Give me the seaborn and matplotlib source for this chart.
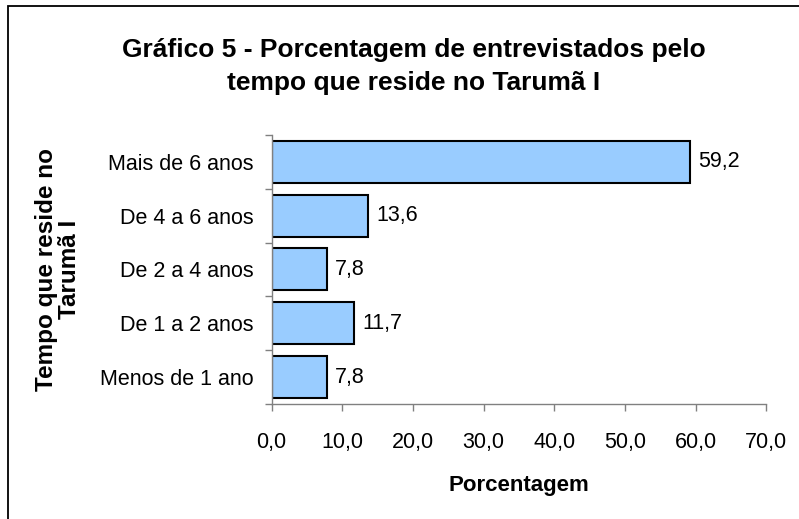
import matplotlib
matplotlib.use('Agg')
import matplotlib.pyplot as plt
import matplotlib.patches as mpatches
import seaborn as sns
import pandas as pd
import numpy as np

categorias = ['Mais de 6 anos', 'De 4 a 6 anos', 'De 2 a 4 anos', 'De 1 a 2 anos', 'Menos de 1 ano']
porcentagem = [59.2, 13.6, 7.8, 11.7, 7.8]
xticks = [0, 10, 20, 30, 40, 50, 60, 70]

sns.set_style('white')
plt.rcParams['font.family'] = ['Liberation Sans', 'DejaVu Sans']
plt.rcParams['text.color'] = 'black'
plt.rcParams['axes.labelcolor'] = 'black'
plt.rcParams['xtick.color'] = 'black'
plt.rcParams['ytick.color'] = 'black'

df = pd.DataFrame({'cat': categorias, 'pct': porcentagem})

fig = plt.figure(figsize=(7.99, 5.19), dpi=100)
ax = fig.add_axes([0.340, 0.2216, 0.619, 0.5184])

sns.barplot(data=df, y='cat', x='pct', orient='h', color='#99CCFF',
            edgecolor='black', linewidth=1.5, width=0.78, saturation=1, ax=ax)

ax.bar_label(ax.containers[0], labels=[f'{v:.1f}'.replace('.', ',') for v in porcentagem],
             padding=6, fontsize=15.5, color='black')

ax.set_xlim(0, 70)
ax.set_ylim(4.5, -0.5)
ax.set_xticks(xticks)
ax.set_xticklabels([f'{v:.1f}'.replace('.', ',') for v in xticks], fontsize=15.5)
ax.set_yticks(np.arange(-0.5, 5, 1), minor=True)
ax.tick_params(axis='y', which='major', left=True, length=0, pad=13, labelsize=15.5, labelcolor='black')
ax.tick_params(axis='y', which='minor', left=True, length=5, width=1, color='#808080', direction='out')
ax.tick_params(axis='x', which='major', bottom=True, length=5, width=1, color='#808080',
               direction='out', pad=15, labelcolor='black')

for s in ['top', 'right']:
    ax.spines[s].set_visible(False)
for s in ['left', 'bottom']:
    ax.spines[s].set_color('#808080')
    ax.spines[s].set_linewidth(1)

ax.set_xlabel('Porcentagem', fontsize=16, fontweight='bold', labelpad=16)
ax.set_ylabel('Tempo que reside no\nTarumã I', fontsize=17.5, fontweight='bold', labelpad=14,
              linespacing=0.95)

fig.text(0.518, 0.872, 'Gráfico 5 - Porcentagem de entrevistados pelo\ntempo que reside no Tarumã I',
         ha='center', va='center', fontsize=19, fontweight='bold', linespacing=1.5)

rect = mpatches.Rectangle((8 / 799, -0.1), 1.2, 1 - 6 / 519 + 0.1, transform=fig.transFigure,
                          fill=False, edgecolor='black', linewidth=1.3)
fig.patches.append(rect)

fig.savefig('out.png', dpi=100)
